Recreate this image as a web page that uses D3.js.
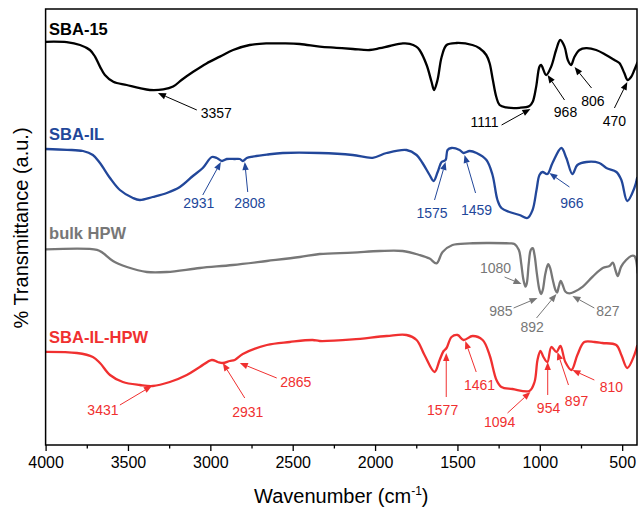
<!DOCTYPE html>
<html><head><meta charset="utf-8">
<script src="https://cdn.jsdelivr.net/npm/d3@7"></script>
<style>
html,body{margin:0;padding:0;background:#fff;}
svg{display:block;font-family:"Liberation Sans",Arial,sans-serif;}
</style>
</head><body>
<svg id="chart" width="639" height="511"></svg>
<script>
// FTIR spectra: [wavenumber (cm-1), transmittance (a.u., stacked)]
const sba15 = [[4000,100.8],[3872,100.7],[3791,100],[3731,98.75],[3700,97.1],[3670,94.6],[3640,92.5],[3589,90.8],[3508,90],[3428,89.2],[3367,88.75],[3286,88.9],[3226,89.6],[3175,91.25],[3104,93.3],[3023,95.4],[2942,97.1],[2862,98.75],[2761,100],[2659,100.4],[2559,100.4],[2457,100.25],[2336,99.6],[2235,99.3],[2134,99],[2033,98.75],[1972,99.2],[1912,99.75],[1831,100.4],[1790,100.3],[1750,99.6],[1730,98.75],[1687,95],[1657,90.75],[1642,88.75],[1621,91.25],[1596,97],[1566,100],[1505,100.5],[1409,100],[1366,99.2],[1325,97.5],[1305,95.5],[1285,91.25],[1264,87],[1244,85],[1204,84.4],[1123,84.3],[1063,84.75],[1043,85.8],[1022,89.6],[1002,94.6],[992,95],[961,92.5],[931,94.6],[901,98.75],[876,101.25],[850,99.6],[830,96.25],[810,95],[790,97],[759,98.75],[719,99.2],[658,98.75],[598,97.5],[547,96.25],[517,95.5],[487,93],[467,91.25],[446,92],[426,93.75],[406,95.75]];

const sbaIL = [[4000,74],[3870,73.8],[3773,73.5],[3713,72.5],[3670,70.5],[3609,66.75],[3549,63.75],[3470,61.75],[3428,61.25],[3350,62],[3264,63],[3185,64.5],[3106,67.25],[3046,69.25],[2991,72],[2961,71.75],[2930,71],[2900,71.5],[2852,71.5],[2821,71.5],[2803,71],[2779,71.75],[2743,72.1],[2657,72.6],[2560,73],[2336,73],[2136,72.5],[2015,71.8],[1930,73],[1809,73.75],[1748,72.5],[1712,70.5],[1669,67.5],[1645,66],[1620,68.25],[1596,70.75],[1572,71.25],[1560,73.75],[1536,74.25],[1487,73.75],[1463,73],[1426,73.5],[1384,73],[1324,71.25],[1287,67.5],[1257,61.25],[1233,59.25],[1184,58.25],[1123,57.5],[1075,56.75],[1044,58.75],[1020,63.75],[1002,67.5],[984,68.25],[954,67.75],[923,70.5],[869,74.25],[839,71.75],[802,67.75],[772,70],[717,70.75],[639,70.5],[596,69.25],[535,68.25],[505,66.25],[469,61],[426,64.25],[408,67]];

const bulkHPW = [[4000,48.9],[3688,48.8],[3652,48],[3591,46],[3506,44.5],[3385,43.25],[3264,43.25],[3063,44.25],[2864,45],[2657,46],[2457,47],[2336,47.75],[2136,48.1],[1972,48.5],[1833,48.5],[1730,47.5],[1669,46.6],[1627,45.4],[1590,48.25],[1530,50],[1426,50.4],[1324,50.5],[1184,50.4],[1154,50.25],[1127,48.75],[1113,45.4],[1099,41.25],[1087,39.6],[1079,40.4],[1067,45.4],[1055,48.75],[1043,49.2],[1032,47.5],[1018,42.9],[1002,38.75],[992,37.75],[982,38.75],[966,42.9],[949,45.2],[937,44.2],[921,41.25],[905,38.75],[895,38.1],[885,39.6],[873,41],[861,40],[844,38.3],[820,37.9],[790,38.3],[739,39.6],[679,42.1],[618,44.25],[577,44.75],[557,45.6],[541,43.75],[527,42.25],[506,44.6],[476,46.25],[446,47.25],[426,47.25],[416,46.25],[406,42.9]];

const sbaILHPW = [[4000,23.3],[3810,23],[3713,22],[3670,20.5],[3609,17.5],[3531,15.75],[3428,15],[3349,14.75],[3246,15.75],[3143,17.5],[3064,19.5],[2991,21.25],[2955,20.75],[2924,20.5],[2882,21],[2852,21.25],[2803,22.75],[2657,25],[2518,25.75],[2379,26.25],[2336,26],[2136,26.4],[1930,27.25],[1809,27.5],[1748,26.25],[1700,22.5],[1639,18.25],[1608,21.25],[1584,23.5],[1566,24.25],[1536,27],[1499,27.5],[1463,26.25],[1408,27.25],[1347,26.25],[1305,22.5],[1263,16.25],[1233,14.5],[1166,14],[1063,13.5],[1032,15.75],[1014,21.25],[996,23.5],[978,22],[954,20.75],[930,24.5],[899,23.25],[875,24.75],[845,20.75],[808,18.75],[772,22.5],[730,25.75],[669,25.75],[621,25.5],[536,25],[505,22.5],[469,19.25],[426,22.5],[408,25]];

const majorTicks = [4000,3500,3000,2500,2000,1500,1000,500];
const minorTicks = [3750,3250,2750,2250,1750,1250,750];

// peak annotations: label text, label anchor, arrow tail, arrow tip (all in data units)
const peaks15 = [
  {t:"3357", at:[2964,81.75], from:[3082,83.75], to:[3318,88]},
  {t:"1111", at:[1335,79.5], from:[1232,80], to:[1057,84]},
  {t:"968",  at:[844,82],   from:[850,86.25], to:[953,92.5]},
  {t:"806",  at:[678,84.75], from:[686,89.25], to:[789,94.5]},
  {t:"470",  at:[547,79.75], from:[547,84.25], to:[469,90.75]}
];
const peaksIL = [
  {t:"2931", at:[3070,59.25], from:[3046,62.5], to:[2936,70.75]},
  {t:"2808", at:[2761,59.25], from:[2773,63.25], to:[2791,70.75]},
  {t:"1575", at:[1654,56.75], from:[1639,61.25], to:[1572,70.75]},
  {t:"1459", at:[1384,57.5], from:[1390,63], to:[1457,72.5]},
  {t:"966",  at:[805,59.25], from:[820,64.5], to:[942,68]}
];
const peaksHPW = [
  {t:"1080", at:[1269,43], from:[1214,42], to:[1111,40.25]},
  {t:"985",  at:[1236,32.25], from:[1159,34.25], to:[1014,36.75]},
  {t:"892",  at:[1047,28.25], from:[1020,31.75], to:[899,37.75]},
  {t:"827",  at:[587,32.25], from:[669,34.25], to:[802,37.25]}
];
const peaksILHPW = [
  {t:"3431", at:[3652,7.5], from:[3549,10], to:[3355,14.75]},
  {t:"2931", at:[2773,7], from:[2791,11.75], to:[2924,20.5]},
  {t:"2865", at:[2481,14.5], from:[2597,16.75], to:[2821,20.5]},
  {t:"1577", at:[1590,7.5], from:[1568,12], to:[1568,23]},
  {t:"1461", at:[1366,13.75], from:[1386,18.25], to:[1452,26]},
  {t:"1094", at:[1244,4.5], from:[1196,8], to:[1057,13.25]},
  {t:"954",  at:[947,8], from:[952,12.5], to:[952,20.75]},
  {t:"897",  at:[777,9.75], from:[826,15], to:[893,23.25]},
  {t:"810",  at:[565,13.25], from:[669,16.25], to:[802,18.75]}
];

const series = [
  {name:"SBA-15", color:"#000000", data:sba15, peaks:peaks15, tag:[3979,102.6]},
  {name:"SBA-IL", color:"#22479a", data:sbaIL, peaks:peaksIL, tag:[3979,76.25]},
  {name:"bulk HPW", color:"#777777", data:bulkHPW, peaks:peaksHPW, tag:[3979,51.5]},
  {name:"SBA-IL-HPW", color:"#f03030", data:sbaILHPW, peaks:peaksILHPW, tag:[3979,25.5]}
];

const svg = d3.select("#chart");
const plotLeft = 45.6, plotRight = 637, plotTop = 9, plotBottom = 445;
const x = d3.scaleLinear().domain([4000,410]).range([plotLeft,plotRight]);
const y = d3.scaleLinear().domain([0,109]).range([plotBottom,plotTop]);

svg.append("defs").append("clipPath").attr("id","plotClip")
  .append("rect").attr("x",plotLeft).attr("y",plotTop)
  .attr("width",plotRight-plotLeft).attr("height",plotBottom-plotTop);

const line = d3.line().x(d=>x(d[0])).y(d=>y(d[1])).curve(d3.curveCatmullRom.alpha(0.5));

const plot = svg.append("g").attr("clip-path","url(#plotClip)");
series.forEach(s=>{
  plot.append("path").datum(s.data)
    .attr("d",line).attr("fill","none")
    .attr("stroke",s.color).attr("stroke-width",2.3)
    .attr("stroke-linejoin","round");
});

// series names
series.forEach(s=>{
  svg.append("text").attr("x",x(s.tag[0])).attr("y",y(s.tag[1]))
    .attr("font-size",16.5).attr("font-weight","bold").attr("fill",s.color)
    .text(s.name);
});

// peak arrows and labels
const ann = svg.append("g");
series.forEach(s=>{
  s.peaks.forEach(p=>{
    const x0=x(p.from[0]), y0=y(p.from[1]), x1=x(p.to[0]), y1=y(p.to[1]);
    const a=Math.atan2(y1-y0,x1-x0), L=8, w=3.2;
    const bx=x1-L*Math.cos(a), by=y1-L*Math.sin(a);
    ann.append("line").attr("x1",x0).attr("y1",y0).attr("x2",bx).attr("y2",by)
      .attr("stroke",s.color).attr("stroke-width",1);
    ann.append("path")
      .attr("d",`M${x1},${y1}L${bx+w*Math.sin(a)},${by-w*Math.cos(a)}L${bx-w*Math.sin(a)},${by+w*Math.cos(a)}Z`)
      .attr("fill",s.color);
    ann.append("text").attr("x",x(p.at[0])).attr("y",y(p.at[1]))
      .attr("text-anchor","middle").attr("font-size",14).attr("fill",s.color)
      .text(p.t);
  });
});

// axes
const gx = svg.append("g").attr("transform",`translate(0,${plotBottom})`);
gx.call(d3.axisBottom(x).tickValues(majorTicks).tickSize(6).tickPadding(6).tickFormat(d3.format("d")));
gx.selectAll("text").attr("font-size",16).attr("fill","#000").attr("font-family","Liberation Sans, Arial, sans-serif");
gx.selectAll("line").attr("stroke","#000").attr("stroke-width",1.3);
gx.select(".domain").remove();
const gm = svg.append("g").attr("transform",`translate(0,${plotBottom})`);
gm.call(d3.axisBottom(x).tickValues(minorTicks).tickSize(3.5).tickFormat(""));
gm.selectAll("line").attr("stroke","#000").attr("stroke-width",1.3);
gm.select(".domain").remove();

// frame
svg.append("rect").attr("x",plotLeft).attr("y",plotTop)
  .attr("width",plotRight-plotLeft).attr("height",plotBottom-plotTop)
  .attr("fill","none").attr("stroke","#000").attr("stroke-width",1.5);

// axis titles
const xt = svg.append("text").attr("x",(plotLeft+plotRight)/2).attr("y",503)
  .attr("text-anchor","middle").attr("font-size",20).attr("fill","#000");
xt.append("tspan").text("Wavenumber (cm");
xt.append("tspan").attr("font-size",12).attr("dy",-8).text("-1");
xt.append("tspan").attr("dy",8).text(")");

svg.append("text").attr("transform","translate(28,228) rotate(-90)")
  .attr("text-anchor","middle").attr("font-size",20).attr("fill","#000")
  .text("% Transmittance (a.u.)");
</script>
</body></html>
